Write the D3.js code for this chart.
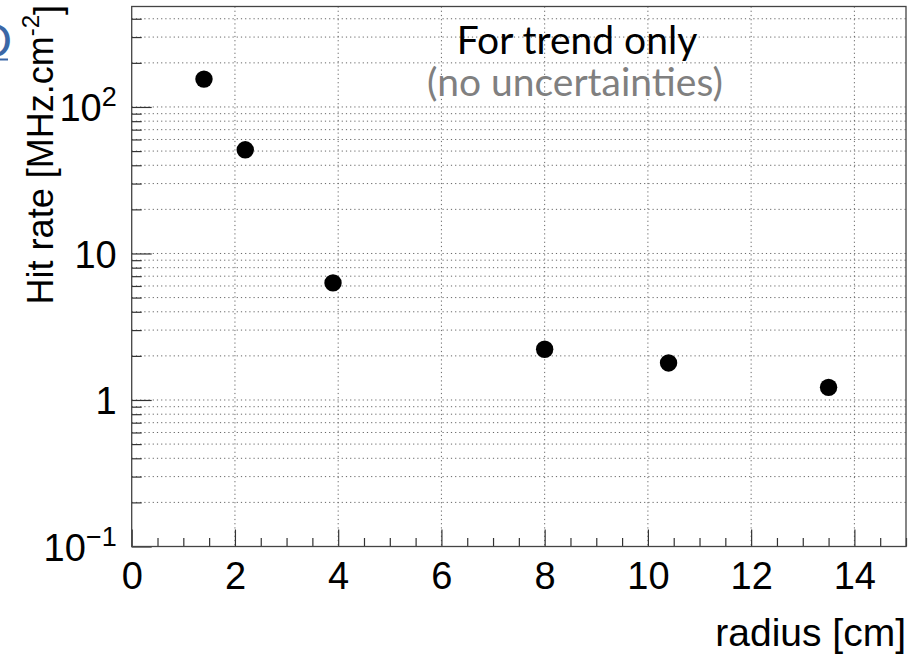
<!DOCTYPE html>
<html>
<head>
<meta charset="utf-8">
<script src="https://cdn.jsdelivr.net/npm/d3@7"></script>
<style>
  html, body { margin: 0; padding: 0; background: #fff; overflow: hidden; }
  svg { display: block; }
  .axis text { font-family: "Liberation Sans", Arial, sans-serif; font-size: 38px; fill: #000; }
  .axis .domain { display: none; }
  .axis line { stroke: #333; stroke-width: 1.2; }
</style>
</head>
<body>
<svg id="chart" width="910" height="656"></svg>
<script>
// radius [cm] of each measurement point
const radius = [1.4, 2.2, 3.9, 8.0, 10.4, 13.5];
// hit rate [MHz.cm^-2]
const hitRate = [155, 51, 6.3, 2.22, 1.79, 1.22];

const xMajorTicks = [0, 2, 4, 6, 8, 10, 12, 14];
const yMajorTicks = [0.1, 1, 10, 100];
const yMajorLabels = [['10', '\u22121'], ['1', ''], ['10', ''], ['10', '2']];

const config = {
  width: 910,
  height: 656,
  margin: { top: 6.5, right: 4, bottom: 109.5, left: 131.7 }
};

const svg = d3.select('#chart');
const width = config.width - config.margin.left - config.margin.right;
const height = config.height - config.margin.top - config.margin.bottom;

const xScale = d3.scaleLinear().domain([0, 15]).range([0, width]);
const yScale = d3.scaleLog().domain([0.1, 485]).range([height, 0]);

const chart = svg.append('g')
  .attr('transform', `translate(${config.margin.left},${config.margin.top})`);

// minor log values inside domain
const yMinor = [];
[0.1, 1, 10, 100].forEach(dec => {
  for (let k = 2; k <= 9; k++) {
    const v = k * dec;
    if (v <= yScale.domain()[1]) yMinor.push(v);
  }
});
const xMinor = d3.range(0, 15.01, 0.5).filter(v => v % 2 !== 0);

// Dotted grid
const grid = chart.append('g').attr('class', 'grid');
grid.selectAll('.hgrid')
  .data(yMajorTicks.concat(yMinor).filter(v => v > 0.1))
  .join('line')
  .attr('x1', 0).attr('x2', width)
  .attr('y1', d => yScale(d)).attr('y2', d => yScale(d))
  .attr('stroke', '#666').attr('stroke-width', 1)
  .attr('stroke-dasharray', '1.2,3');
grid.selectAll('.vgrid')
  .data(xMajorTicks.filter(v => v > 0))
  .join('line')
  .attr('x1', d => xScale(d)).attr('x2', d => xScale(d))
  .attr('y1', 0).attr('y2', height)
  .attr('stroke', '#666').attr('stroke-width', 1)
  .attr('stroke-dasharray', '1.2,3');

// X axis: ticks pointing up into the frame
const xAxisG = chart.append('g').attr('class', 'axis x-axis')
  .attr('transform', `translate(0,${height})`);
xAxisG.call(d3.axisBottom(xScale).tickValues(xMajorTicks).tickSize(-17).tickPadding(16).tickFormat(d3.format('d')));
xAxisG.selectAll('text').attr('dy', '0.71em');
chart.append('g').attr('class', 'axis')
  .attr('transform', `translate(0,${height})`)
  .call(d3.axisBottom(xScale).tickValues(xMinor).tickSize(-8.5).tickFormat(''));

// Y axis: ticks pointing right into the frame
const yAxisG = chart.append('g').attr('class', 'axis y-axis');
yAxisG.call(d3.axisLeft(yScale).tickValues(yMajorTicks).tickSize(-20).tickPadding(15).tickFormat(''));
chart.append('g').attr('class', 'axis')
  .call(d3.axisLeft(yScale).tickValues(yMinor).tickSize(-10).tickFormat(''));

// Y tick labels with superscripts
yAxisG.selectAll('.tick').each(function(d, i) {
  const lab = yMajorLabels[i];
  const t = d3.select(this).select('text')
    .attr('x', -15).attr('dy', '0.36em').attr('text-anchor', 'end');
  t.text(null);
  t.append('tspan').text(lab[0]);
  if (lab[1]) {
    t.append('tspan').attr('dy', '-0.55em').style('font-size', '27px').text(lab[1]);
  }
});

// Frame
chart.append('rect')
  .attr('width', width).attr('height', height)
  .attr('fill', 'none').attr('stroke', '#444').attr('stroke-width', 1.3);

// Data points
chart.selectAll('.pt')
  .data(radius.map((r, i) => ({ r, v: hitRate[i] })))
  .join('circle')
  .attr('class', 'pt')
  .attr('cx', d => xScale(d.r))
  .attr('cy', d => yScale(d.v))
  .attr('r', 8.7)
  .attr('fill', '#000');

// Axis titles
svg.append('text')
  .attr('text-anchor', 'end')
  .attr('x', 906).attr('y', 646)
  .style('font-family', '"Liberation Sans", Arial, sans-serif')
  .style('font-size', '39px')
  .text('radius [cm]');

const yTitle = svg.append('text')
  .attr('text-anchor', 'end')
  .attr('transform', 'translate(53,5) rotate(-90)')
  .style('font-family', '"Liberation Sans", Arial, sans-serif')
  .style('font-size', '36px');
yTitle.append('tspan').text('Hit rate [MHz.cm');
yTitle.append('tspan').attr('dy', '-0.6em').style('font-size', '24px').text('-2');
yTitle.append('tspan').attr('dy', '0.6em').text(']');

// Annotation
svg.append('text')
  .attr('text-anchor', 'middle')
  .attr('x', 577).attr('y', 54)
  .style('font-family', 'Lato, "Open Sans", sans-serif')
  .style('font-size', '39px')
  .attr('fill', '#000')
  .text('For trend only');
svg.append('text')
  .attr('text-anchor', 'middle')
  .attr('x', 575).attr('y', 96)
  .style('font-family', 'Lato, "Open Sans", sans-serif')
  .style('font-size', '39px')
  .attr('fill', '#808080')
  .text('(no uncertainties)');

// Cropped slide text around the chart
svg.append('text')
  .attr('x', -23).attr('y', 57)
  .style('font-family', 'Lato, sans-serif')
  .style('font-size', '46px')
  .attr('fill', '#3b67a6')
  .text('D');
svg.append('line')
  .attr('x1', 0).attr('x2', 8).attr('y1', 59.5).attr('y2', 59.5)
  .attr('stroke', '#3b67a6').attr('stroke-width', 2);
svg.append('text')
  .attr('x', 0).attr('y', 689)
  .style('font-family', 'Lato, sans-serif')
  .style('font-size', '44px')
  .style('font-weight', 'bold')
  .attr('fill', '#3b67a6')
  .text('simulated based on O');
</script>
</body>
</html>
